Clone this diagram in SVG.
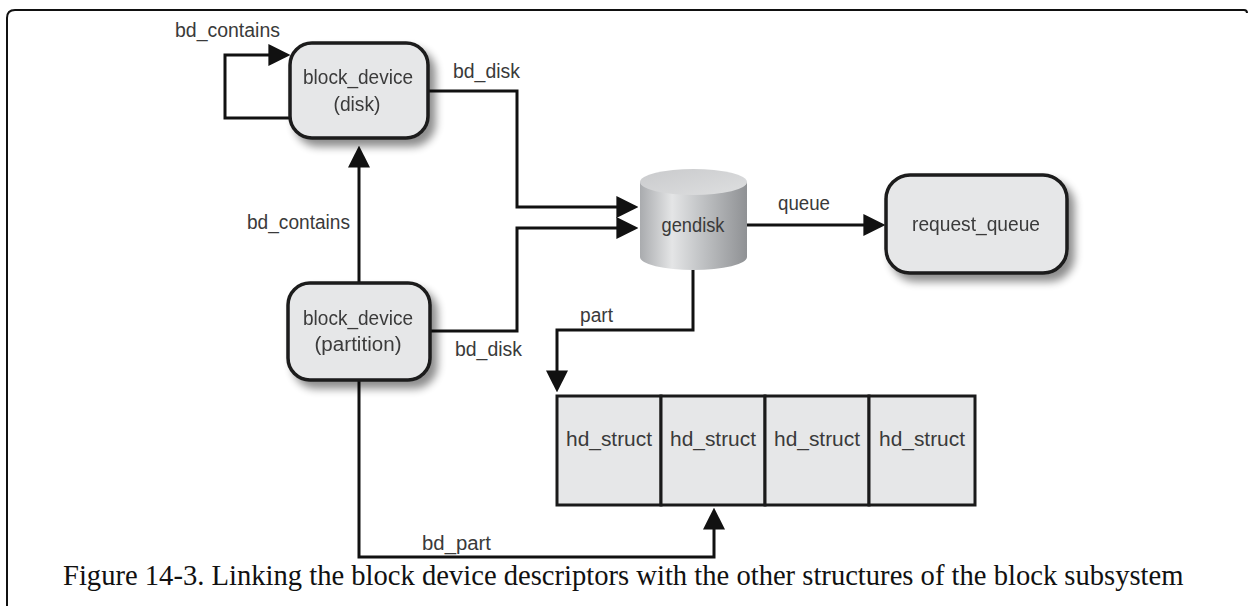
<svg xmlns="http://www.w3.org/2000/svg" width="1249" height="606" viewBox="0 0 1249 606">
<style>
.box{fill:#e6e7e8;stroke:#1a1a1a;stroke-width:3.5}
.cell{fill:#e6e7e8;stroke:#1a1a1a;stroke-width:3}
.lbl{font-family:"Liberation Sans",Arial,sans-serif;font-size:20px;fill:#3a3a3a}
.mid{text-anchor:middle}
.wire{fill:none;stroke:#111;stroke-width:3}
.cap{font-family:"Liberation Serif","Times New Roman",serif;font-size:28.6px;fill:#111}
</style>
<defs>
<filter id="sh" x="-20%" y="-20%" width="150%" height="150%">
<feGaussianBlur in="SourceAlpha" stdDeviation="4"/>
<feOffset dx="6" dy="7" result="b"/>
<feComponentTransfer><feFuncA type="linear" slope="0.45"/></feComponentTransfer>
<feMerge><feMergeNode/><feMergeNode in="SourceGraphic"/></feMerge>
</filter>
<marker id="ah" markerUnits="userSpaceOnUse" markerWidth="22" markerHeight="22" viewBox="0 0 20 20" refX="16" refY="10" orient="auto">
<path d="M0,0 L20,10 L0,20 z" fill="#111"/>
</marker>
<linearGradient id="cyl" x1="0" y1="0" x2="1" y2="0">
<stop offset="0" stop-color="#a9abae"/>
<stop offset="0.3" stop-color="#e4e5e6"/>
<stop offset="0.55" stop-color="#c4c6c8"/>
<stop offset="1" stop-color="#8f9194"/>
</linearGradient>
<linearGradient id="cyltop" x1="0" y1="0" x2="1" y2="1">
<stop offset="0" stop-color="#c9cacc"/>
<stop offset="1" stop-color="#dedfe0"/>
</linearGradient>
</defs>

<g id="frame">
<path d="M7 606 V18 Q7 10 15 10 H1244 Q1247 10 1247 13" fill="none" stroke="#111" stroke-width="2"/>
</g>

<g id="connectors">
<path class="wire" d="M290 118 H225 V55 H286" marker-end="url(#ah)"/>
<path class="wire" d="M359 283 V150" marker-end="url(#ah)"/>
<path class="wire" d="M428 91 H517 V207 H634" marker-end="url(#ah)"/>
<path class="wire" d="M430 331 H517 V228 H634" marker-end="url(#ah)"/>
<path class="wire" d="M747 225 H881" marker-end="url(#ah)"/>
<path class="wire" d="M693 270 V330 H557 V388" marker-end="url(#ah)"/>
<path class="wire" d="M359 380 V557 H714 V512" marker-end="url(#ah)"/>
<text class="lbl" x="175" y="37" textLength="105" lengthAdjust="spacingAndGlyphs">bd_contains</text>
<text class="lbl" x="247" y="229" textLength="103" lengthAdjust="spacingAndGlyphs">bd_contains</text>
<text class="lbl" x="453" y="78" textLength="67" lengthAdjust="spacingAndGlyphs">bd_disk</text>
<text class="lbl" x="455" y="356" textLength="67" lengthAdjust="spacingAndGlyphs">bd_disk</text>
<text class="lbl" x="778" y="210" textLength="52" lengthAdjust="spacingAndGlyphs">queue</text>
<text class="lbl" x="580" y="322" textLength="33" lengthAdjust="spacingAndGlyphs">part</text>
<text class="lbl" x="422" y="550" textLength="69" lengthAdjust="spacingAndGlyphs">bd_part</text>
</g>

<g id="disk" filter="url(#sh)">
<rect class="box" x="290" y="43" width="138" height="95" rx="22"/>
<text class="lbl mid" x="358" y="84" textLength="110" lengthAdjust="spacingAndGlyphs">block_device</text>
<text class="lbl mid" x="357" y="111" textLength="47" lengthAdjust="spacingAndGlyphs">(disk)</text>
</g>

<g id="partition" filter="url(#sh)">
<rect class="box" x="288" y="283" width="142" height="97" rx="22"/>
<text class="lbl mid" x="358" y="325" textLength="110" lengthAdjust="spacingAndGlyphs">block_device</text>
<text class="lbl mid" x="358" y="351" textLength="87" lengthAdjust="spacingAndGlyphs">(partition)</text>
</g>

<g id="gendisk">
<path d="M640 182 V257 A53.5 13 0 0 0 747 257 V182 Z" fill="url(#cyl)"/>
<ellipse cx="693.5" cy="182" rx="53.5" ry="13" fill="url(#cyltop)"/>
<text class="lbl mid" x="693" y="232" textLength="63" lengthAdjust="spacingAndGlyphs" style="font-size:21px">gendisk</text>
</g>

<g id="request_queue" filter="url(#sh)">
<rect class="box" x="886" y="175" width="181" height="98" rx="24"/>
<text class="lbl mid" x="976" y="231" textLength="128" lengthAdjust="spacingAndGlyphs">request_queue</text>
</g>

<g id="hd_structs">
<rect class="cell" x="557" y="396" width="104" height="109"/>
<rect class="cell" x="661" y="396" width="104" height="109"/>
<rect class="cell" x="765" y="396" width="104" height="109"/>
<rect class="cell" x="869" y="396" width="106" height="109"/>
<text class="lbl mid" x="609" y="446" textLength="86" lengthAdjust="spacingAndGlyphs">hd_struct</text>
<text class="lbl mid" x="713" y="446" textLength="86" lengthAdjust="spacingAndGlyphs">hd_struct</text>
<text class="lbl mid" x="817" y="446" textLength="86" lengthAdjust="spacingAndGlyphs">hd_struct</text>
<text class="lbl mid" x="922" y="446" textLength="86" lengthAdjust="spacingAndGlyphs">hd_struct</text>
</g>

<g id="caption">
<text class="cap" x="63" y="585">Figure 14-3. Linking the block device descriptors with the other structures of the block subsystem</text>
</g>
</svg>
